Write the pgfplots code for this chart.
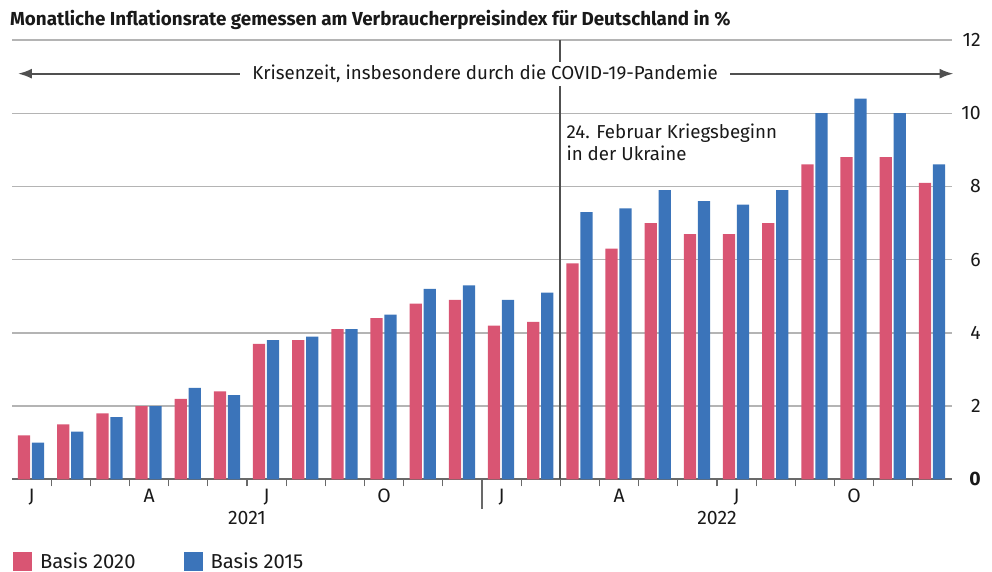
\documentclass[border=0pt]{standalone}
\usepackage{pgfplots}
\pgfplotsset{compat=1.18}
\usetikzlibrary{arrows.meta}
\usepackage{fontspec}
\setmainfont{Fira Sans}
\definecolor{cpink}{RGB}{217,85,115}
\definecolor{cblue}{RGB}{59,116,186}
\definecolor{cgrid}{RGB}{180,180,180}
\definecolor{caxis}{RGB}{105,105,105}
\definecolor{cline}{RGB}{80,80,80}
\definecolor{ctext}{RGB}{25,25,25}
\pgfplotstableread{
idx b2020 b2015
0 1.2 1.0
1 1.5 1.3
2 1.8 1.7
3 2.0 2.0
4 2.2 2.5
5 2.4 2.3
6 3.7 3.8
7 3.8 3.9
8 4.1 4.1
9 4.4 4.5
10 4.8 5.2
11 4.9 5.3
12 4.2 4.9
13 4.3 5.1
14 5.9 7.3
15 6.3 7.4
16 7.0 7.9
17 6.7 7.6
18 6.7 7.5
19 7.0 7.9
20 8.6 10.0
21 8.8 10.4
22 8.8 10.0
23 8.1 8.6
}\datatable
\begin{document}
\begin{tikzpicture}
\path[use as bounding box] (0,0) rectangle (992bp,572bp);
\node[anchor=base west, font=\fontsize{18.9}{22}\selectfont\bfseries, text=ctext, inner sep=0pt] at (10bp,546bp) {Monatliche Inflationsrate gemessen am Verbraucherpreisindex für Deutschland in \%};
\begin{axis}[
  at={(12bp,92.7bp)}, anchor=south west,
  scale only axis, width=940bp, height=439.3bp,
  xmin=-0.5, xmax=23.5, ymin=0, ymax=12,
  clip=false,
  axis x line*=bottom, axis y line*=right,
  x axis line style={draw=caxis, line width=1.6bp, -},
  y axis line style={draw=none},
  ytick={0,2,4,6,8,10,12},
  yticklabels={\textbf{0},2,4,6,8,10,12},
  major y tick style={draw=none},
  ymajorgrids,
  major grid style={draw=cgrid, line width=1.3bp},
  yticklabel style={anchor=east, xshift=28bp, font=\fontsize{19.5}{22}\selectfont, text=ctext},
  xtick={0,3,6,9,12,15,18,21},
  xticklabels={J,A,J,O,J,A,J,O},
  major x tick style={draw=none},
  minor xtick={0.5,1.5,...,22.5},
  minor x tick style={draw=caxis, line width=1.2bp},
  minor tick length=7bp,
  tick align=outside,
  xticklabel style={font=\fontsize{19.5}{22}\selectfont, text=ctext, yshift=-2bp},
  extra x ticks={5.5,17.5},
  extra x tick labels={2021,2022},
  extra x tick style={major tick length=0pt, tick label style={yshift=-26bp}},
  legend style={at={(axis description cs:0.001,-0.187)}, anchor=west, draw=none, fill=none, inner sep=0pt,
    legend columns=2, font=\fontsize{20.3}{22}\selectfont, text=ctext,
    /tikz/every even column/.append style={column sep=40bp},
    nodes={inner xsep=8bp, inner ysep=4bp}},
  legend image code/.code={\fill[#1,draw=none] (0bp,-9.5bp) rectangle (19bp,9.5bp);},
]
\addplot[ybar, bar width=12.2bp, bar shift=-7.5bp, fill=cpink, draw=none] table[x=idx, y=b2020] {\datatable};
\addlegendentry{Basis 2020}
\addplot[ybar, bar width=12.2bp, bar shift=6.5bp, fill=cblue, draw=none] table[x=idx, y=b2015] {\datatable};
\addlegendentry{Basis 2015}
\draw[cline, line width=1.8bp] (axis cs:13.5,0) -- (axis cs:13.5,12);
\draw[caxis, line width=1.5bp] (axis cs:11.5,0) -- ([yshift=-30bp]axis cs:11.5,0);
\draw[cline, line width=2.2bp, -{Latex[length=14bp,width=10bp]}] (axis cs:11.58,11.08) -- (axis cs:23.54,11.08);
\draw[cline, line width=2.2bp, -{Latex[length=14bp,width=10bp]}] (axis cs:11.58,11.08) -- (axis cs:-0.35,11.08);
\node[fill=white, inner xsep=12bp, inner ysep=3bp, font=\fontsize{18.8}{22}\selectfont, text=ctext] at (axis cs:11.58,11.08) {Krisenzeit, insbesondere durch die COVID-19-Pandemie};
\node[anchor=base west, inner sep=0pt, font=\fontsize{18.8}{22}\selectfont, text=ctext] at ([xshift=6bp]axis cs:13.5,9.32) {24. Februar Kriegsbeginn};
\node[anchor=base west, inner sep=0pt, font=\fontsize{18.8}{22}\selectfont, text=ctext] at ([xshift=6bp]axis cs:13.5,8.72) {in der Ukraine};
\end{axis}
\end{tikzpicture}
\end{document}
